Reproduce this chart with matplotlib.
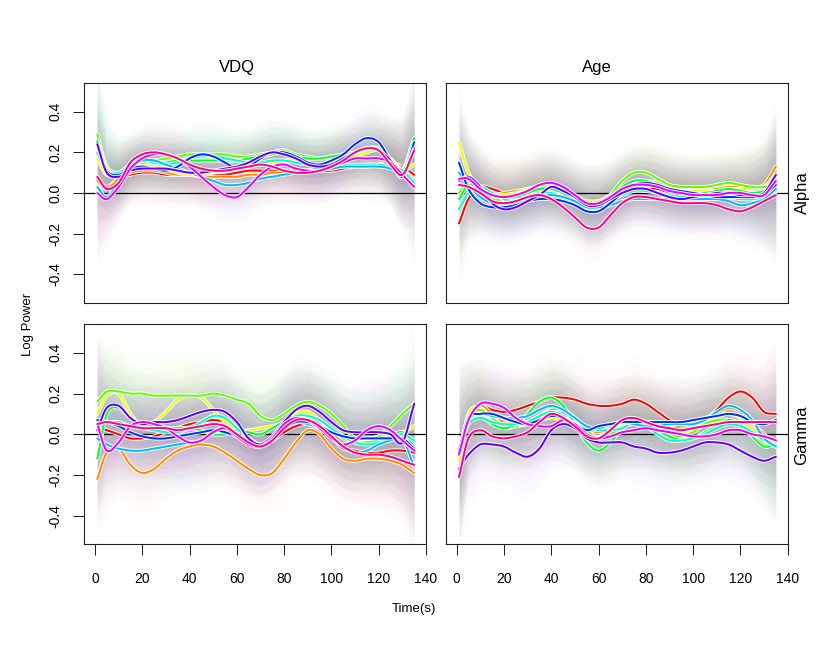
import matplotlib
matplotlib.use('Agg')
import matplotlib.pyplot as plt
from matplotlib.path import Path
from matplotlib.patches import PathPatch
import numpy as np

plt.rcParams['font.family'] = ['Liberation Sans', 'DejaVu Sans']

# ---------------- data ----------------
T = [1, 5, 10, 15, 20, 25, 30, 35, 40, 45, 50, 55, 60, 65,
     70, 75, 80, 85, 90, 95, 100, 105, 110, 115, 120, 125, 130, 135]

COLORS = ['#FF0000', '#FF8B00', '#E8FF00', '#5DFF00', '#00FF2E', '#00FFB9',
          '#00B9FF', '#002EFF', '#5D00FF', '#E800FF', '#FF008B']

ROW_LABELS = ['Alpha', 'Gamma']
COL_LABELS = ['VDQ', 'Age']
XTICKS = [0, 20, 40, 60, 80, 100, 120, 140]
YTICKS = [-0.4, -0.2, 0.0, 0.2, 0.4]
YTICK_LABELS = ['-0.4', '-0.2', '0.0', '0.2', '0.4']

ALPHA_VDQ = [
    [0.07, 0.03, 0.07, 0.09, 0.10, 0.10, 0.09, 0.09, 0.09, 0.09, 0.09, 0.09, 0.10, 0.11,
     0.11, 0.11, 0.11, 0.11, 0.11, 0.11, 0.11, 0.12, 0.13, 0.13, 0.14, 0.15, 0.13, 0.09],
    [0.06, 0.02, 0.07, 0.10, 0.11, 0.11, 0.10, 0.09, 0.09, 0.08, 0.08, 0.08, 0.08, 0.09,
     0.09, 0.10, 0.10, 0.11, 0.11, 0.12, 0.12, 0.13, 0.13, 0.14, 0.14, 0.15, 0.12, 0.06],
    [0.17, 0.09, 0.10, 0.13, 0.14, 0.13, 0.12, 0.10, 0.09, 0.09, 0.10, 0.11, 0.12, 0.13,
     0.14, 0.15, 0.16, 0.17, 0.17, 0.17, 0.17, 0.17, 0.18, 0.20, 0.21, 0.17, 0.11, 0.14],
    [0.29, 0.13, 0.10, 0.14, 0.16, 0.16, 0.17, 0.18, 0.19, 0.19, 0.19, 0.19, 0.18, 0.18,
     0.19, 0.20, 0.21, 0.19, 0.18, 0.17, 0.18, 0.19, 0.20, 0.22, 0.22, 0.17, 0.11, 0.27],
    [0.26, 0.12, 0.09, 0.13, 0.15, 0.15, 0.15, 0.16, 0.16, 0.16, 0.16, 0.16, 0.16, 0.17,
     0.18, 0.19, 0.20, 0.18, 0.17, 0.17, 0.18, 0.19, 0.20, 0.22, 0.21, 0.16, 0.10, 0.27],
    [0.20, 0.11, 0.10, 0.14, 0.16, 0.15, 0.14, 0.15, 0.17, 0.18, 0.18, 0.17, 0.16, 0.15,
     0.15, 0.16, 0.16, 0.15, 0.14, 0.14, 0.14, 0.14, 0.14, 0.14, 0.14, 0.13, 0.11, 0.05],
    [0.03, -0.02, 0.05, 0.12, 0.16, 0.16, 0.14, 0.12, 0.10, 0.08, 0.06, 0.04, 0.04, 0.05,
     0.07, 0.08, 0.09, 0.10, 0.11, 0.12, 0.12, 0.13, 0.13, 0.13, 0.13, 0.12, 0.09, 0.03],
    [0.25, 0.11, 0.09, 0.12, 0.13, 0.12, 0.11, 0.13, 0.17, 0.19, 0.18, 0.15, 0.12, 0.13,
     0.17, 0.20, 0.20, 0.18, 0.15, 0.14, 0.16, 0.19, 0.24, 0.27, 0.25, 0.16, 0.08, 0.25],
    [0.24, 0.10, 0.08, 0.11, 0.12, 0.12, 0.12, 0.11, 0.10, 0.10, 0.11, 0.12, 0.13, 0.15,
     0.18, 0.20, 0.19, 0.17, 0.14, 0.13, 0.14, 0.17, 0.20, 0.22, 0.21, 0.16, 0.08, 0.22],
    [0.00, -0.03, 0.03, 0.12, 0.17, 0.19, 0.19, 0.17, 0.13, 0.08, 0.03, -0.01, -0.02, 0.03,
     0.09, 0.13, 0.14, 0.12, 0.11, 0.11, 0.13, 0.15, 0.17, 0.17, 0.17, 0.15, 0.09, 0.03],
    [0.08, 0.02, 0.05, 0.15, 0.19, 0.20, 0.19, 0.17, 0.14, 0.12, 0.11, 0.11, 0.12, 0.13,
     0.14, 0.13, 0.11, 0.10, 0.10, 0.11, 0.13, 0.16, 0.20, 0.22, 0.21, 0.14, 0.09, 0.21],
]

ALPHA_AGE = [
    [-0.15, -0.03, 0.03, 0.02, 0.00, -0.01, 0.00, 0.01, 0.00, -0.01, -0.03, -0.05, -0.05, -0.03,
     0.00, 0.02, 0.02, 0.02, 0.00, -0.01, -0.02, -0.03, -0.02, 0.01, 0.03, 0.02, 0.00, -0.01],
    [0.04, 0.03, 0.01, -0.01, 0.00, 0.01, 0.02, 0.03, 0.04, 0.02, -0.01, -0.04, -0.04, -0.01,
     0.02, 0.05, 0.06, 0.05, 0.03, 0.02, 0.01, 0.01, 0.02, 0.03, 0.03, 0.03, 0.04, 0.13],
    [0.25, 0.10, 0.02, -0.01, -0.01, 0.00, 0.02, 0.03, 0.02, 0.00, -0.02, -0.04, -0.04, -0.02,
     0.02, 0.04, 0.05, 0.04, 0.02, 0.01, 0.01, 0.01, 0.01, 0.02, 0.02, 0.02, 0.03, 0.09],
    [0.00, 0.05, 0.01, -0.03, -0.03, -0.01, 0.01, 0.03, 0.03, 0.01, -0.03, -0.06, -0.06, -0.01,
     0.06, 0.10, 0.10, 0.07, 0.04, 0.03, 0.03, 0.03, 0.04, 0.05, 0.04, 0.03, 0.03, 0.05],
    [-0.03, 0.04, 0.02, -0.01, -0.02, -0.02, 0.00, 0.02, 0.02, 0.00, -0.04, -0.07, -0.06, -0.02,
     0.03, 0.06, 0.06, 0.04, 0.02, 0.01, 0.00, 0.00, 0.01, 0.02, 0.01, 0.00, 0.01, 0.04],
    [-0.08, 0.00, 0.03, 0.00, -0.03, -0.04, -0.02, 0.00, 0.00, -0.02, -0.05, -0.07, -0.07, -0.04,
     -0.01, 0.01, 0.01, 0.00, -0.01, -0.02, -0.02, -0.02, -0.01, -0.02, -0.03, -0.03, -0.02, 0.01],
    [0.10, 0.04, -0.02, -0.05, -0.05, -0.04, -0.03, -0.02, -0.01, -0.02, -0.04, -0.07, -0.07, -0.06,
     -0.04, -0.03, -0.03, -0.03, -0.03, -0.03, -0.03, -0.03, -0.03, -0.04, -0.06, -0.05, -0.03, 0.02],
    [0.15, 0.02, -0.05, -0.07, -0.07, -0.06, -0.04, -0.03, -0.03, -0.04, -0.06, -0.09, -0.09, -0.05,
     0.00, 0.04, 0.05, 0.04, 0.02, 0.01, 0.00, -0.01, -0.02, -0.02, -0.02, -0.02, -0.01, 0.04],
    [0.06, 0.08, 0.03, -0.05, -0.08, -0.07, -0.04, -0.01, 0.03, 0.01, -0.02, -0.06, -0.06, -0.03,
     0.00, 0.02, 0.02, 0.00, -0.02, -0.03, -0.02, -0.01, 0.00, 0.00, -0.01, -0.01, 0.00, 0.09],
    [0.07, 0.07, 0.02, -0.01, -0.02, -0.01, 0.01, 0.04, 0.05, 0.03, -0.01, -0.05, -0.05, -0.02,
     0.02, 0.04, 0.04, 0.03, 0.01, 0.00, -0.01, -0.01, -0.01, 0.00, 0.00, -0.01, -0.01, 0.06],
    [0.04, 0.03, 0.00, -0.04, -0.05, -0.04, -0.02, -0.01, -0.03, -0.07, -0.12, -0.17, -0.17, -0.11,
     -0.05, -0.02, -0.02, -0.03, -0.04, -0.05, -0.05, -0.05, -0.06, -0.08, -0.09, -0.07, -0.04, -0.01],
]

GAMMA_VDQ = [
    [0.03, 0.02, 0.00, -0.02, -0.02, -0.01, 0.01, 0.03, 0.05, 0.06, 0.07, 0.06, 0.03, -0.02,
     -0.05, -0.03, 0.01, 0.04, 0.05, 0.03, -0.01, -0.07, -0.08, -0.09, -0.09, -0.08, -0.08, -0.09],
    [-0.22, -0.09, -0.07, -0.15, -0.19, -0.17, -0.12, -0.08, -0.06, -0.05, -0.06, -0.09, -0.13, -0.17,
     -0.20, -0.19, -0.12, -0.04, 0.02, 0.00, -0.07, -0.12, -0.13, -0.12, -0.12, -0.13, -0.15, -0.19],
    [0.10, 0.19, 0.20, 0.10, 0.04, 0.06, 0.11, 0.17, 0.19, 0.18, 0.12, 0.06, 0.02, 0.02,
     0.03, 0.04, 0.06, 0.10, 0.11, 0.07, 0.02, -0.01, -0.03, -0.03, -0.01, 0.00, 0.01, 0.04],
    [0.16, 0.21, 0.21, 0.20, 0.20, 0.19, 0.19, 0.19, 0.19, 0.19, 0.20, 0.19, 0.17, 0.15,
     0.09, 0.07, 0.10, 0.14, 0.16, 0.14, 0.10, 0.04, -0.02, -0.02, -0.01, 0.04, 0.10, 0.15],
    [-0.12, 0.10, 0.13, 0.08, 0.05, 0.04, 0.03, 0.03, 0.03, 0.02, 0.00, 0.00, 0.02, 0.01,
     0.00, 0.03, 0.06, 0.07, 0.06, 0.04, 0.02, -0.02, -0.04, -0.04, -0.03, -0.01, 0.01, -0.06],
    [0.07, 0.06, 0.06, 0.04, 0.03, 0.02, 0.01, 0.01, 0.03, 0.06, 0.09, 0.08, 0.03, -0.02,
     -0.05, -0.02, 0.05, 0.09, 0.09, 0.07, 0.03, -0.01, -0.04, -0.05, -0.04, -0.02, 0.00, -0.03],
    [-0.02, -0.05, -0.07, -0.08, -0.08, -0.07, -0.06, -0.05, -0.04, -0.03, 0.01, 0.03, -0.01, -0.04,
     -0.06, -0.03, 0.03, 0.06, 0.05, 0.03, -0.01, -0.06, -0.09, -0.08, -0.05, -0.03, -0.02, -0.16],
    [0.07, 0.06, 0.04, 0.01, -0.01, -0.02, -0.02, -0.01, 0.00, 0.01, 0.02, 0.01, -0.01, -0.04,
     -0.05, -0.02, 0.03, 0.06, 0.06, 0.04, 0.01, -0.01, -0.02, -0.02, -0.02, -0.02, -0.02, -0.07],
    [0.02, 0.13, 0.14, 0.08, 0.05, 0.06, 0.06, 0.07, 0.09, 0.11, 0.12, 0.11, 0.06, -0.02,
     -0.05, -0.01, 0.06, 0.12, 0.14, 0.11, 0.06, 0.02, 0.01, 0.01, 0.01, 0.00, -0.04, 0.15],
    [0.05, -0.08, -0.04, 0.04, 0.06, 0.05, 0.03, -0.01, -0.04, -0.03, 0.01, 0.03, -0.01, -0.05,
     -0.06, -0.02, 0.05, 0.08, 0.07, 0.03, -0.02, -0.05, -0.03, 0.02, 0.04, 0.02, -0.03, -0.08],
    [0.05, 0.06, 0.05, 0.04, 0.03, 0.03, 0.03, 0.02, 0.03, 0.04, 0.05, 0.04, 0.00, -0.04,
     -0.06, -0.03, 0.03, 0.07, 0.07, 0.04, -0.01, -0.06, -0.09, -0.10, -0.10, -0.11, -0.13, -0.15],
]

GAMMA_AGE = [
    [-0.08, 0.08, 0.14, 0.12, 0.11, 0.12, 0.14, 0.16, 0.18, 0.18, 0.17, 0.15, 0.14, 0.14,
     0.15, 0.17, 0.15, 0.11, 0.07, 0.05, 0.05, 0.07, 0.12, 0.18, 0.21, 0.18, 0.11, 0.10],
    [-0.10, 0.08, 0.14, 0.10, 0.06, 0.05, 0.06, 0.09, 0.12, 0.12, 0.08, 0.03, 0.01, 0.03,
     0.06, 0.07, 0.06, 0.04, 0.03, 0.04, 0.06, 0.08, 0.10, 0.13, 0.11, 0.06, 0.00, -0.05],
    [-0.13, 0.10, 0.13, 0.07, 0.03, 0.04, 0.05, 0.07, 0.08, 0.07, 0.04, 0.00, -0.01, 0.01,
     0.04, 0.05, 0.04, 0.02, 0.00, 0.00, 0.02, 0.06, 0.09, 0.10, 0.08, 0.03, -0.02, -0.04],
    [-0.10, 0.08, 0.12, 0.08, 0.04, 0.04, 0.06, 0.09, 0.12, 0.12, 0.08, 0.02, -0.02, 0.00,
     0.04, 0.06, 0.06, 0.03, 0.00, -0.01, 0.01, 0.05, 0.07, 0.07, 0.05, 0.00, -0.05, -0.06],
    [-0.10, 0.06, 0.09, 0.05, 0.03, 0.05, 0.10, 0.16, 0.18, 0.14, 0.05, -0.04, -0.08, -0.04,
     0.03, 0.06, 0.05, 0.02, -0.01, -0.03, -0.02, 0.01, 0.04, 0.07, 0.05, -0.01, -0.06, -0.05],
    [-0.09, 0.05, 0.08, 0.06, 0.05, 0.05, 0.06, 0.09, 0.11, 0.09, 0.05, 0.03, 0.02, 0.02,
     0.03, 0.06, 0.04, 0.00, -0.03, -0.03, -0.02, 0.00, 0.03, 0.05, 0.04, 0.01, -0.03, -0.06],
    [-0.08, 0.07, 0.10, 0.09, 0.08, 0.08, 0.09, 0.12, 0.14, 0.12, 0.08, 0.04, 0.03, 0.05,
     0.06, 0.05, 0.04, 0.04, 0.05, 0.05, 0.05, 0.07, 0.11, 0.14, 0.12, 0.07, -0.02, -0.06],
    [-0.08, 0.08, 0.10, 0.10, 0.08, 0.06, 0.05, 0.07, 0.09, 0.08, 0.05, 0.02, 0.04, 0.05,
     0.06, 0.06, 0.06, 0.06, 0.06, 0.06, 0.07, 0.08, 0.09, 0.10, 0.09, 0.06, 0.05, 0.07],
    [-0.17, -0.10, -0.05, -0.05, -0.06, -0.09, -0.11, -0.07, 0.02, 0.05, 0.03, -0.02, -0.04, -0.04,
     -0.04, -0.06, -0.07, -0.09, -0.09, -0.08, -0.06, -0.04, -0.04, -0.05, -0.08, -0.11, -0.13, -0.11],
    [-0.10, 0.07, 0.15, 0.15, 0.13, 0.08, 0.05, 0.04, 0.04, 0.07, 0.05, 0.00, -0.02, -0.01,
     0.01, 0.02, 0.03, 0.02, 0.01, 0.00, -0.01, -0.01, 0.00, 0.02, 0.02, 0.00, -0.01, -0.03],
    [-0.21, -0.02, 0.02, -0.01, -0.02, -0.01, 0.01, 0.06, 0.10, 0.08, 0.04, -0.01, -0.02, 0.02,
     0.07, 0.08, 0.06, 0.04, 0.03, 0.02, 0.03, 0.04, 0.05, 0.06, 0.06, 0.06, 0.06, 0.06],
]

# half-width of the (faint) confidence clouds, per panel
HW_ALPHA_VDQ = [0.38, 0.24, 0.18, 0.16, 0.16, 0.16, 0.16, 0.16, 0.16, 0.16, 0.16, 0.16, 0.16, 0.16,
                0.16, 0.16, 0.16, 0.16, 0.16, 0.16, 0.16, 0.16, 0.16, 0.17, 0.18, 0.21, 0.26, 0.38]
HW_ALPHA_AGE = [0.38, 0.25, 0.20, 0.18, 0.18, 0.18, 0.18, 0.18, 0.18, 0.18, 0.18, 0.19, 0.19, 0.18,
                0.18, 0.18, 0.18, 0.18, 0.18, 0.18, 0.18, 0.18, 0.18, 0.18, 0.19, 0.21, 0.25, 0.35]
HW_GAMMA_VDQ = [0.42, 0.30, 0.26, 0.25, 0.25, 0.25, 0.25, 0.25, 0.25, 0.25, 0.25, 0.25, 0.25, 0.25,
                0.25, 0.25, 0.25, 0.25, 0.25, 0.25, 0.25, 0.25, 0.25, 0.25, 0.26, 0.28, 0.32, 0.42]
HW_GAMMA_AGE = [0.42, 0.28, 0.23, 0.22, 0.22, 0.22, 0.22, 0.22, 0.22, 0.22, 0.22, 0.22, 0.22, 0.22,
                0.22, 0.22, 0.22, 0.22, 0.22, 0.22, 0.22, 0.22, 0.22, 0.22, 0.23, 0.25, 0.29, 0.38]

# ---------------- figure ----------------
W, H = 830, 650
fig = plt.figure(figsize=(W / 100, H / 100), dpi=100)


def px_axes(x0, y0, x1, y1):
    return fig.add_axes([x0 / W, 1 - y1 / H, (x1 - x0) / W, (y1 - y0) / H])


def smooth_path(x, y):
    """Cubic Bezier path passing through every (x, y) point."""
    x = np.asarray(x, float)
    y = np.asarray(y, float)
    n = len(x)
    mx = np.empty(n)
    my = np.empty(n)
    mx[1:-1] = (x[2:] - x[:-2]) / 2
    my[1:-1] = (y[2:] - y[:-2]) / 2
    mx[0], my[0] = x[1] - x[0], y[1] - y[0]
    mx[-1], my[-1] = x[-1] - x[-2], y[-1] - y[-2]
    verts = [(x[0], y[0])]
    codes = [Path.MOVETO]
    for i in range(n - 1):
        verts += [(x[i] + mx[i] / 3, y[i] + my[i] / 3),
                  (x[i + 1] - mx[i + 1] / 3, y[i + 1] - my[i + 1] / 3),
                  (x[i + 1], y[i + 1])]
        codes += [Path.CURVE4] * 3
    return Path(verts, codes)


panels = [
    (px_axes(84.3, 83.3, 426.0, 302.7), ALPHA_VDQ, HW_ALPHA_VDQ, True, False),
    (px_axes(446.0, 83.3, 787.7, 302.7), ALPHA_AGE, HW_ALPHA_AGE, False, False),
    (px_axes(84.3, 324.3, 426.0, 544.3), GAMMA_VDQ, HW_GAMMA_VDQ, True, True),
    (px_axes(446.0, 324.3, 787.7, 544.3), GAMMA_AGE, HW_GAMMA_AGE, False, True),
]

FRACS = [1.0, 0.8, 0.6, 0.4, 0.2]
tt = np.array(T, dtype=float)

for ax, curves, hw, show_y, show_x in panels:
    hwa = np.array(hw)
    for c, y in zip(COLORS, curves):
        ya = np.array(y)
        for f in FRACS:
            ax.fill_between(tt, ya - f * hwa, ya + f * hwa, color=c, alpha=0.012, lw=0)
    ax.axhline(0, color='black', lw=0.9, zorder=3)
    for c, y in zip(COLORS, curves):
        p = smooth_path(tt, y)
        ax.add_patch(PathPatch(p, fill=False, edgecolor='white', lw=2.8,
                               capstyle='round', joinstyle='round', zorder=4))
        ax.add_patch(PathPatch(p, fill=False, edgecolor=c, lw=1.45,
                               capstyle='round', joinstyle='round', zorder=4))
    ax.set_xlim(-4.5, 140)
    ax.set_ylim(-0.54, 0.54)
    for sp in ax.spines.values():
        sp.set_linewidth(0.8)
        sp.set_color('#222222')
    ax.tick_params(direction='out', length=7.8, width=0.75, color='#222222',
                   labelsize=10)
    if show_x:
        ax.set_xticks(XTICKS)
        ax.set_xticklabels([str(v) for v in XTICKS])
        ax.tick_params(axis='x', pad=12)
    else:
        ax.set_xticks([])
    if show_y:
        ax.set_yticks(YTICKS)
        ax.set_yticklabels(YTICK_LABELS, rotation=90, va='center')
        ax.tick_params(axis='y', pad=8)
    else:
        ax.set_yticks([])

fig.text(237 / W, 1 - 67.7 / H, COL_LABELS[0], ha='center', va='center', fontsize=12)
fig.text(597 / W, 1 - 67.7 / H, COL_LABELS[1], ha='center', va='center', fontsize=12)
fig.text(802 / W, 1 - 193 / H, ROW_LABELS[0], ha='center', va='center', fontsize=12, rotation=90)
fig.text(802 / W, 1 - 435 / H, ROW_LABELS[1], ha='center', va='center', fontsize=12, rotation=90)
fig.text(28 / W, 1 - 324 / H, 'Log Power', ha='center', va='center', fontsize=9.5, rotation=90)
fig.text(414 / W, 1 - 609 / H, 'Time(s)', ha='center', va='center', fontsize=9.5)

fig.savefig('out.png', dpi=100, facecolor='white')
